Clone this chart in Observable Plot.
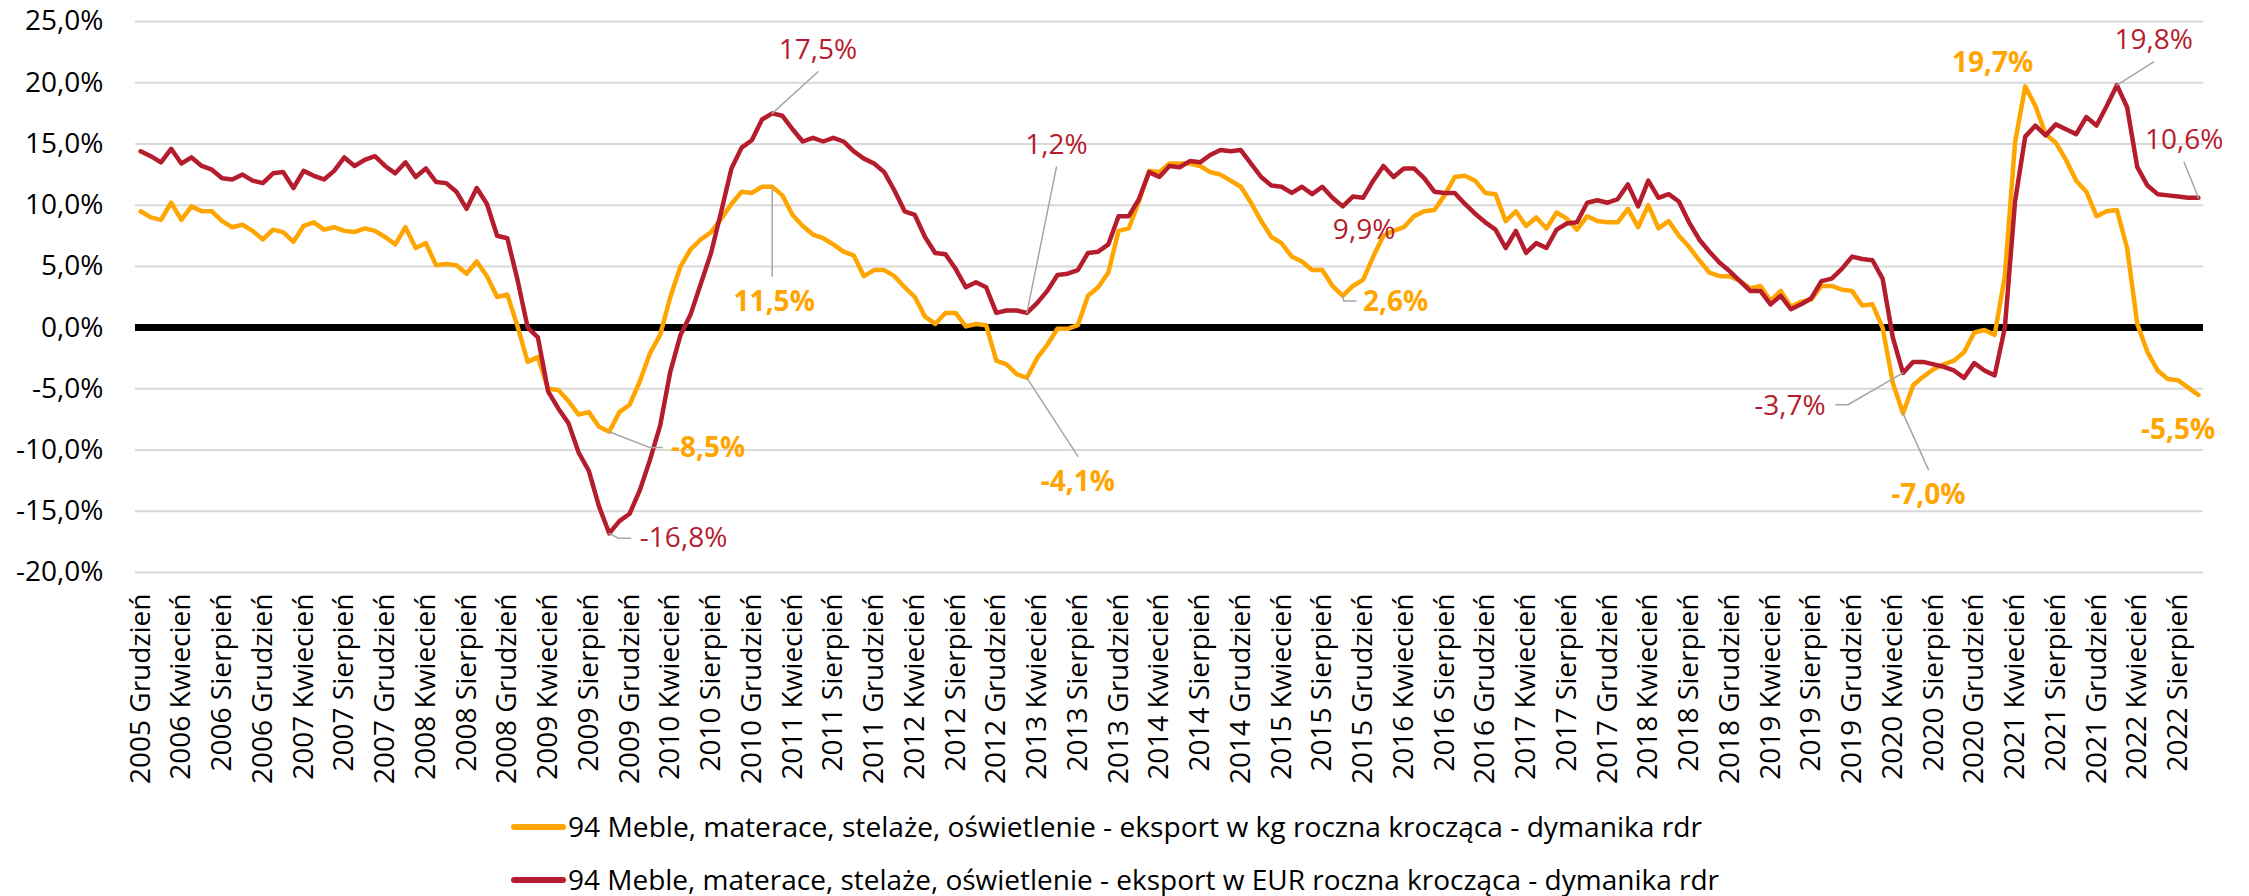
<!DOCTYPE html>
<html><head><meta charset="utf-8">
<script src="https://cdn.jsdelivr.net/npm/d3@7"></script>
<script src="https://cdn.jsdelivr.net/npm/@observablehq/plot@0.6"></script>
<style>
body{margin:0;background:#fff;overflow:hidden;}
#chart svg{display:block;}
#legend{font-family:"Liberation Sans Narrow","Open Sans",sans-serif;font-size:27px;line-height:1;color:#000;padding-left:511px;}
.row{height:53px;display:flex;align-items:center;white-space:nowrap;}
.sw{display:inline-block;width:55px;height:6px;border-radius:3px;margin-right:2px;flex:none;}
.txt{display:inline-block;transform-origin:left center;line-height:1;}
</style></head><body>
<div id="chart"></div>
<div id="legend"></div>
<script>
// ---- categories ----
const monthNames = ["Styczeń","Luty","Marzec","Kwiecień","Maj","Czerwiec","Lipiec","Sierpień","Wrzesień","Październik","Listopad","Grudzień"];
const startYear = 2005, startMonthIdx = 11; // 2005 Grudzień

// ---- series values (% r/r) ----
const kg = [9.5,9.0,8.8,10.2,8.8,9.9,9.5,9.5,8.7,8.2,8.4,7.9,7.2,8.0,7.8,7.0,8.3,8.6,8.0,8.2,
7.9,7.8,8.1,7.9,7.4,6.8,8.2,6.5,6.9,5.1,5.2,5.1,4.4,5.4,4.2,2.5,2.7,0.1,-2.8,-2.4,
-5.0,-5.1,-6.0,-7.1,-6.9,-8.1,-8.5,-6.9,-6.3,-4.4,-2.1,-0.6,2.5,5.0,6.4,7.2,7.8,8.9,10.1,11.1,
11.0,11.5,11.5,10.8,9.2,8.3,7.6,7.3,6.8,6.2,5.9,4.2,4.7,4.7,4.2,3.3,2.5,0.9,0.3,1.2,
1.2,0.1,0.3,0.2,-2.7,-3.0,-3.8,-4.1,-2.5,-1.4,-0.1,-0.1,0.2,2.6,3.3,4.5,7.9,8.1,10.3,12.8,
12.7,13.4,13.4,13.4,13.2,12.7,12.5,12.0,11.5,10.2,8.7,7.4,6.9,5.8,5.4,4.7,4.7,3.4,2.6,3.4,
3.9,5.8,7.5,7.9,8.2,9.1,9.5,9.6,10.8,12.3,12.4,12.0,11.0,10.9,8.7,9.5,8.3,9.0,8.1,9.4,
8.9,8.0,9.1,8.7,8.6,8.6,9.7,8.2,10.0,8.1,8.7,7.5,6.6,5.5,4.5,4.2,4.2,3.8,3.2,3.4,
2.2,3.0,1.7,2.1,2.3,3.4,3.4,3.1,3.0,1.8,1.9,0.0,-4.5,-7.0,-4.7,-4.0,-3.4,-3.0,-2.7,-2.0,
-0.4,-0.2,-0.6,4.2,15.1,19.7,18.1,15.8,15.1,13.7,12.0,11.1,9.1,9.5,9.6,6.5,0.3,-2.0,-3.5,-4.2,
-4.3,-4.9,-5.5];
const eur = [14.4,14.0,13.5,14.6,13.4,13.9,13.2,12.9,12.2,12.1,12.5,12.0,11.8,12.6,12.7,11.4,12.8,12.4,12.1,12.8,
13.9,13.2,13.7,14.0,13.2,12.6,13.5,12.3,13.0,11.9,11.8,11.1,9.7,11.4,10.1,7.5,7.3,3.9,0.0,-0.8,
-5.2,-6.6,-7.8,-10.2,-11.7,-14.6,-16.8,-15.8,-15.2,-13.3,-10.8,-8.0,-3.6,-0.6,1.1,3.6,6.1,9.5,13.0,14.7,
15.3,17.0,17.5,17.3,16.2,15.2,15.5,15.2,15.5,15.2,14.4,13.8,13.4,12.7,11.2,9.5,9.2,7.4,6.1,6.0,
4.8,3.3,3.7,3.3,1.2,1.4,1.4,1.2,2.0,3.0,4.3,4.4,4.7,6.1,6.2,6.8,9.1,9.1,10.5,12.7,
12.3,13.2,13.1,13.6,13.5,14.1,14.5,14.4,14.5,13.4,12.3,11.6,11.5,11.0,11.5,10.9,11.5,10.6,9.9,10.7,
10.6,12.0,13.2,12.3,13.0,13.0,12.2,11.1,11.0,11.0,10.1,9.3,8.6,8.0,6.5,7.9,6.1,6.9,6.5,8.0,
8.5,8.6,10.2,10.4,10.2,10.5,11.7,9.9,12.0,10.6,10.9,10.3,8.6,7.2,6.2,5.3,4.6,3.8,3.0,3.0,
1.9,2.6,1.5,1.9,2.4,3.8,4.0,4.8,5.8,5.6,5.5,4.0,-0.8,-3.7,-2.8,-2.8,-3.0,-3.2,-3.5,-4.1,
-2.9,-3.5,-3.9,0.0,10.3,15.6,16.5,15.7,16.6,16.2,15.8,17.2,16.5,18.1,19.8,18.0,13.1,11.6,10.9,10.8,
10.7,10.6,10.6];

// ---- tick labels ----
const tickLabels = ["2005 Grudzień","2006 Kwiecień","2006 Sierpień","2006 Grudzień","2007 Kwiecień","2007 Sierpień","2007 Grudzień",
"2008 Kwiecień","2008 Sierpień","2008 Grudzień","2009 Kwiecień","2009 Sierpień","2009 Grudzień","2010 Kwiecień","2010 Sierpień",
"2010 Grudzień","2011 Kwiecień","2011 Sierpień","2011 Grudzień","2012 Kwiecień","2012 Sierpień","2012 Grudzień","2013 Kwiecień",
"2013 Sierpień","2013 Grudzień","2014 Kwiecień","2014 Sierpień","2014 Grudzień","2015 Kwiecień","2015 Sierpień","2015 Grudzień",
"2016 Kwiecień","2016 Sierpień","2016 Grudzień","2017 Kwiecień","2017 Sierpień","2017 Grudzień","2018 Kwiecień","2018 Sierpień",
"2018 Grudzień","2019 Kwiecień","2019 Sierpień","2019 Grudzień","2020 Kwiecień","2020 Sierpień","2020 Grudzień","2021 Kwiecień",
"2021 Sierpień","2021 Grudzień","2022 Kwiecień","2022 Sierpień"];
const yTicks = [-20,-15,-10,-5,0,5,10,15,20,25];

const seriesNames = ["94 Meble, materace, stelaże, oświetlenie - eksport w kg roczna krocząca - dymanika rdr",
"94 Meble, materace, stelaże, oświetlenie - eksport w EUR roczna krocząca - dymanika rdr"];

// ---- annotations (data units: month index, value) ----
const annText   = ["17,5%","1,2%","9,9%","-16,8%","-3,7%","19,8%","10,6%","-8,5%","11,5%","-4,1%","2,6%","-7,0%","19,7%","-5,5%"];
const annSeries = ["eur","eur","eur","eur","eur","eur","eur","kg","kg","kg","kg","kg","kg","kg"];
const annMonth  = [66.5,89.9,120.1,53.3,161.9,197.6,200.6,55.7,62.2,92.0,123.2,175.5,181.8,200.0];
const annValue  = [22.7,14.9,7.96,-17.2,-6.37,23.5,15.3,-9.87,2.07,-12.6,2.07,-13.7,21.6,-8.4];
const leaderPaths = [
  [[62,17.5],[66.5,20.9]],
  [[87,1.2],[89.9,13.1]],
  [[46,-16.8],[46.9,-17.2],[48.1,-17.2]],
  [[173,-3.7],[167.6,-6.3],[166.4,-6.3]],
  [[194,19.8],[197.6,21.7]],
  [[202,10.6],[200.6,13.5]],
  [[46,-8.5],[50.0,-9.8],[51.2,-9.8]],
  [[62,11.5],[62,4.2]],
  [[87,-4.1],[92,-10.5]],
  [[118,2.6],[118.1,2.17],[119.3,2.17]],
  [[173,-7.0],[175.5,-11.6]]
];

const YELLOW = "#FFA500", RED = "#B51C2D", GRID = "#d9d9d9", LEADER = "#a6a6a6";

// build month categories
const months = kg.map((_, k) => {
  const m = (startMonthIdx + k) % 12;
  const y = startYear + Math.floor((startMonthIdx + k) / 12);
  return `${y} ${monthNames[m]}`;
});
const data = months.map((m, i) => ({i, month: m, kg: kg[i], eur: eur[i]}));
const tickIdx = tickLabels.map(l => months.indexOf(l));
const anns = annText.map((t, k) => ({t, s: annSeries[k], x: annMonth[k], y: annValue[k]}));
const leaders = leaderPaths.flatMap((p, k) => p.map(([x, y]) => ({k, x, y})));

const fmt = d => d.toFixed(1).replace(".", ",") + "%";

const chart = Plot.plot({
  width: 2249, height: 800,
  marginLeft: 135, marginRight: 46, marginTop: 21, marginBottom: 228,
  style: {fontFamily: "'Open Sans', sans-serif", fontSize: "28px", color: "#000", background: "#fff"},
  x: {type: "linear", domain: [-0.5, months.length - 0.5], axis: null},
  y: {domain: [-20, 25], axis: null},
  marks: [
    Plot.ruleY(yTicks, {stroke: GRID, strokeWidth: 2}),
    Plot.axisY(yTicks, {tickSize: 0, tickPadding: 32, tickFormat: fmt, label: null, fontSize: 28}),
    Plot.axisX(tickIdx, {tickSize: 0, tickPadding: 21, tickRotate: -90, tickFormat: i => months[i], label: null, fontSize: 28}),
    Plot.ruleY([0], {stroke: "#000", strokeWidth: 7}),
    Plot.line(data, {x: "i", y: "kg", stroke: YELLOW, strokeWidth: 4.5, strokeLinejoin: "round", strokeLinecap: "round"}),
    Plot.line(data, {x: "i", y: "eur", stroke: RED, strokeWidth: 4.5, strokeLinejoin: "round", strokeLinecap: "round"}),
    Plot.line(leaders, {x: "x", y: "y", z: "k", stroke: LEADER, strokeWidth: 1.5}),
    Plot.text(anns.filter(a => a.s === "eur"), {x: "x", y: "y", text: "t", fill: RED, fontSize: 28, textAnchor: "middle", lineAnchor: "middle"}),
    Plot.text(anns.filter(a => a.s === "kg"), {x: "x", y: "y", text: "t", fill: YELLOW, fontSize: 28, fontWeight: "bold", textAnchor: "middle", lineAnchor: "middle"})
  ]
});
document.getElementById("chart").appendChild(chart);

// legend
const legend = document.getElementById("legend");
const targetW = [1134, 1151];
[YELLOW, RED].forEach((c, k) => {
  const row = document.createElement("div"); row.className = "row";
  const sw = document.createElement("span"); sw.className = "sw"; sw.style.background = c;
  const tx = document.createElement("span"); tx.className = "txt"; tx.textContent = seriesNames[k];
  row.appendChild(sw); row.appendChild(tx); legend.appendChild(row);
});
function fitLegend(){
  legend.querySelectorAll(".txt").forEach((el, k) => {
    el.style.transform = "none";
    const w = el.getBoundingClientRect().width;
    if (w > 0) el.style.transform = `scaleX(${targetW[k] / w})`;
  });
}
fitLegend();
if (document.fonts && document.fonts.ready) document.fonts.ready.then(fitLegend);
</script>
</body></html>
